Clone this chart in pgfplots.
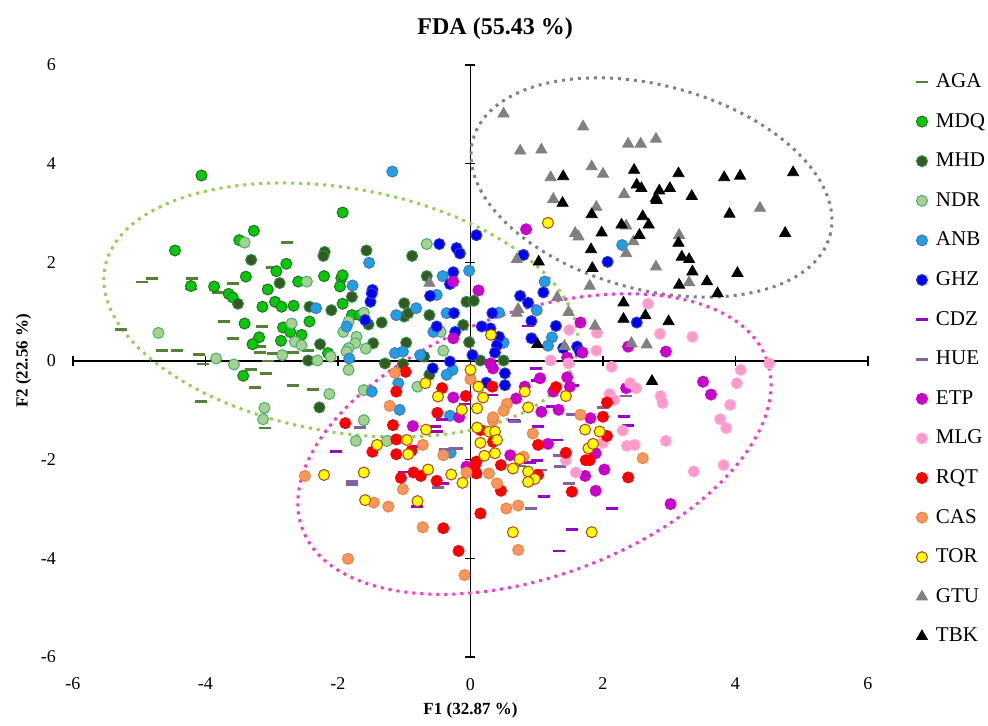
\documentclass[border=0pt]{standalone}
\usepackage{fontspec}
\setmainfont{Liberation Serif}
\usepackage{pgfplots}
\pgfplotsset{compat=1.18}
\usetikzlibrary{plotmarks}

\definecolor{cAGA}{RGB}{84,130,53}
\definecolor{cMDQ}{RGB}{0,204,0}
\definecolor{eMDQ}{RGB}{40,110,40}
\definecolor{cMHD}{RGB}{56,87,35}
\definecolor{eMHD}{RGB}{30,150,60}
\definecolor{cNDR}{RGB}{169,209,142}
\definecolor{eNDR}{RGB}{60,179,113}
\definecolor{cANB}{RGB}{30,160,230}
\definecolor{eANB}{RGB}{70,120,190}
\definecolor{cGHZ}{RGB}{0,0,240}
\definecolor{eGHZ}{RGB}{40,60,220}
\definecolor{cCDZ}{RGB}{153,0,204}
\definecolor{cHUE}{RGB}{128,100,162}
\definecolor{cETP}{RGB}{204,0,204}
\definecolor{cMLG}{RGB}{255,153,204}
\definecolor{eMLG}{RGB}{255,170,210}
\definecolor{cRQT}{RGB}{255,0,0}
\definecolor{cCAS}{RGB}{250,150,90}
\definecolor{eCAS}{RGB}{240,130,60}
\definecolor{cTOR}{RGB}{255,255,0}
\definecolor{eTOR}{RGB}{192,64,0}
\definecolor{cGTU}{RGB}{128,128,128}
\definecolor{elGreen}{RGB}{146,208,80}
\definecolor{elPink}{RGB}{255,51,204}

\pgfplotsset{
  circ/.style 2 args={only marks, color=#2, mark=*, mark size=2.75pt,
    mark options={fill=#1, draw=#2, line width=0.5pt}},
  dash/.style={only marks, color=#1, mark=-, mark size=3pt,
    mark options={draw=#1, line width=1.4pt}},
  tri/.style={only marks, color=#1, mark=triangle*, mark size=3.2pt,
    mark options={fill=#1, draw=#1}},
}
\tikzset{elli/.style={draw=#1, line width=1.5pt, dash pattern=on 1.5pt off 2.5pt}}

\begin{document}
\begin{tikzpicture}
% axes through the origin and the group ellipses
\begin{axis}[
  scale only axis, width=397.5pt, height=296pt,
  xmin=-6, xmax=6, ymin=-6, ymax=6,
  axis lines=middle,
  every inner x axis line/.append style={-},
  every inner y axis line/.append style={-},
  axis line style={black, line width=0.6pt},
  xtick={-6,-4,...,6}, ytick={-6,-4,...,6},
  xticklabels={}, yticklabels={},
  tick align=center, major tick length=5pt,
  tick style={black, line width=0.6pt},
  clip=false,
]
\draw[elli=elGreen, rotate around={-10:(axis cs:-1.955,1.034)}]
  (axis cs:-1.955,1.034) ellipse [x radius=3.62, y radius=2.47];
\draw[elli=cGTU, rotate around={-15:(axis cs:2.732,3.517)}]
  (axis cs:2.732,3.517) ellipse [x radius=2.79, y radius=2.07];
\draw[elli=elPink, rotate around={20:(axis cs:0.966,-1.683)}]
  (axis cs:0.966,-1.683) ellipse [x radius=3.73, y radius=2.68];
\path (rel axis cs:-0.0918,-0.1098) rectangle (rel axis cs:1.151,1.1098);
\end{axis}

\begin{axis}[
  scale only axis, width=397.5pt, height=296pt,
  xmin=-6, xmax=6, ymin=-6, ymax=6,
  axis lines=left, axis line style={draw=none},
  major tick length=0pt,
  xtick={-6,-4,...,6}, ytick={-6,-4,...,6},
  /pgf/number format/assume math mode=true,
  tick label style={font=\fontsize{9}{10}\selectfont},
  xticklabel style={yshift=-7pt},
  yticklabel style={xshift=-5pt},
  xlabel={F1 (32.87 \%)}, ylabel={F2 (22.56 \%)},
  label style={font=\bfseries\fontsize{8.5}{10}\selectfont},
  xlabel style={yshift=0.5pt},
  ylabel style={yshift=-2pt},
  title={FDA (55.43 \%)},
  title style={at={(0.531,1)}, font=\bfseries\fontsize{12}{14}\selectfont, yshift=3pt},
  legend cell align=left,
  legend image code/.code={\draw[#1] plot coordinates {(0cm,0cm)};},
  legend style={at={(1,1)}, anchor=north west, xshift=24pt, yshift=1.4pt,
    draw=none, fill=none, inner sep=0pt, outer sep=0pt,
    font=\fontsize{10.5}{12}\selectfont,
    /tikz/every odd column/.append style={column sep=2.5pt},
    row sep=0pt, nodes={minimum height=19.8pt, inner sep=1.5pt}},
  clip=false,
]
\addplot[dash=cAGA] coordinates {
(-2.77,2.41) (-3.00,1.90) (-4.96,1.60) (-4.81,1.68) (-4.21,1.68) (-4.22,1.46)
(-3.59,1.57) (-3.81,1.39) (-5.28,0.64) (-4.66,0.21) (-4.43,0.21) (-4.10,0.13)
(-4.03,-0.06) (-3.31,-0.18) (-3.08,-0.25) (-3.25,-0.53) (-3.72,0.80) (-3.58,0.45)
(-3.14,0.70) (-3.18,0.29) (-3.18,0.18) (-2.98,0.16) (-3.05,0.00) (-4.07,-0.82)
(-3.10,-1.36) (-2.68,-0.50) (-2.37,-0.57) (-2.68,0.17) (-2.45,0.21)};
\addlegendentry{AGA}
\addplot[circ={cMDQ}{eMDQ}] coordinates {
(-4.06,3.76) (-3.27,2.64) (-3.49,2.45) (-4.46,2.24) (-2.93,1.82) (-2.78,1.97)
(-4.22,1.52) (-3.87,1.51) (-3.65,1.36) (-3.59,1.29) (-3.14,1.10) (-3.06,1.45)
(-2.95,1.20) (-2.85,1.10) (-3.39,1.71) (-3.43,-0.30) (-3.41,0.76) (-3.19,0.48)
(-3.29,0.34) (-2.86,0.41) (-2.83,0.68) (-1.93,3.01) (-2.21,1.72) (-1.95,1.68)
(-1.93,1.74) (-1.97,1.51) (-2.60,1.61) (-2.67,1.12) (-1.93,1.16) (-1.79,0.93)
(-1.67,0.93) (-2.43,0.80) (-2.72,0.59) (-2.55,0.53) (-2.15,0.16)};
\addlegendentry{MDQ}
\addplot[circ={cMHD}{eMHD}] coordinates {
(-3.31,2.05) (-2.88,1.58) (-3.51,1.16) (-2.20,2.21) (-2.22,2.13) (-1.57,2.24)
(-0.88,2.13) (-0.66,1.72) (-1.79,1.30) (-2.43,1.10) (-2.10,1.03) (-2.27,0.34)
(-2.45,0.01) (-1.54,0.74) (-1.34,0.78) (-1.47,0.36) (-1.00,1.17) (-1.00,0.90)
(-0.94,0.97) (-0.62,0.93) (-0.11,0.73) (-0.02,0.38) (-0.06,1.20) (0.05,1.22)
(-0.97,0.37) (-0.70,0.09) (-1.29,-0.05) (-1.02,-0.06) (-0.62,-0.28) (-2.28,-0.94)
(0.15,0.01) (0.50,0.01)};
\addlegendentry{MHD}
\addplot[circ={cNDR}{eNDR}] coordinates {
(-3.41,2.40) (-4.71,0.57) (-3.84,0.05) (-3.57,-0.07) (-2.84,0.12) (-3.11,-0.95)
(-3.13,-1.18) (-0.66,2.37) (-2.47,1.61) (-1.61,0.98) (-2.70,0.76) (-2.65,0.39)
(-2.55,0.32) (-2.31,0.01) (-2.11,0.09) (-1.92,0.59) (-1.84,0.80) (-1.72,0.49)
(-1.74,0.36) (-1.84,0.26) (-1.87,0.19) (-1.58,0.25) (-1.84,-0.18) (-0.45,0.59)
(-0.41,0.21) (-0.80,-0.52) (-1.61,-0.59) (-2.13,-0.67) (-1.61,-1.20) (-1.73,-1.62)
(-1.26,-1.62)};
\addlegendentry{NDR}
\addplot[circ={cANB}{eANB}] coordinates {
(-1.18,3.84) (-1.53,1.99) (-0.02,1.83) (-1.78,1.53) (-0.42,1.72) (-0.51,1.34)
(-2.33,1.07) (-1.87,0.70) (-1.83,0.05) (-0.82,1.07) (-1.12,0.93) (-0.36,0.97)
(-0.56,0.59) (-1.14,0.16) (-1.02,0.19) (-0.76,0.12) (-0.27,-0.18) (-0.36,-0.28)
(-1.09,-0.45) (-1.49,-0.62) (-1.07,-0.99) (-0.31,-1.11) (-0.30,-1.86) (1.00,1.03)
(0.43,0.98) (0.50,0.37) (1.23,0.48) (1.17,0.31) (2.29,2.35) (1.12,1.61)};
\addlegendentry{ANB}
\addplot[circ={cGHZ}{eGHZ}] coordinates {
(-0.47,2.37) (-0.21,2.29) (-0.16,2.18) (0.09,2.55) (-0.26,1.80) (-0.31,1.56)
(-1.48,1.44) (-0.61,1.32) (-1.51,1.20) (-1.49,1.37) (-1.59,0.83) (-0.25,0.97)
(-0.51,0.70) (-0.23,0.59) (-0.31,-0.01) (-0.57,-0.15) (0.03,0.12) (0.75,1.32)
(0.87,1.18) (0.33,0.97) (0.92,0.81) (1.29,0.71) (2.51,0.78) (0.30,0.66)
(0.17,0.70) (0.43,0.49) (0.40,0.32) (0.37,0.17) (0.92,0.46) (1.40,0.26)
(1.61,0.29) (1.65,0.19) (0.52,-0.25) (0.52,-0.49) (0.24,-0.44) (2.07,2.01)
(0.80,2.15) (1.10,1.39)};
\addlegendentry{GHZ}
\addplot[dash=cCDZ] coordinates {
(-0.54,-1.32) (-0.51,-1.43) (-0.43,-1.18) (-0.08,-0.87) (-2.03,-1.84) (-0.79,-1.74)
(-1.00,-2.25) (-0.41,-2.49) (-0.80,-2.95) (0.90,-2.06) (1.01,-2.01) (1.11,-2.74)
(1.02,-1.32) (1.30,-1.60) (1.53,-3.41) (1.34,-3.85) (2.38,-1.30) (2.13,-2.99)
(0.87,0.71) (0.33,-0.69) (0.99,-0.15) (1.00,-0.40) (1.55,-0.50) (1.23,-0.93)
(0.65,-1.20) (2.31,-1.13)};
\addlegendentry{CDZ}
\addplot[dash=cHUE] coordinates {
(-1.67,-1.34) (-0.38,-1.80) (-0.21,-1.77) (-1.79,-2.45) (-1.79,-2.51) (-0.49,-2.57)
(0.75,-2.13) (1.07,-2.21) (0.91,-2.99) (1.33,-1.91) (1.35,-2.14) (1.49,-2.49)
(0.67,-1.23) (1.54,-1.09) (2.00,-0.95) (2.35,-0.71)};
\addlegendentry{HUE}
\addplot[circ={cETP}{cETP}] coordinates {
(-0.26,1.61) (0.12,1.43) (-0.26,0.46) (-0.26,-0.74) (-0.17,-1.14) (-0.87,-1.32)
(-0.06,-2.14) (0.60,-1.91) (1.17,-1.68) (2.02,-2.20) (1.73,-2.33) (1.89,-1.87)
(1.89,-2.63) (1.66,0.78) (2.38,0.29) (0.30,-0.05) (0.34,-0.15) (1.69,0.17)
(1.46,0.07) (1.05,-0.35) (0.82,-0.52) (1.25,-0.62) (1.50,-0.52) (1.46,-0.33)
(0.69,-0.76) (1.07,-1.03) (1.33,-0.99) (1.81,-1.16) (2.35,-0.55) (2.95,0.19)
(3.51,-0.42) (3.63,-0.68) (3.02,-2.90) (0.84,2.67)};
\addlegendentry{ETP}
\addplot[circ={cMLG}{eMLG}] coordinates {
(1.49,0.63) (1.91,0.57) (2.68,1.16) (1.21,0.01) (1.48,-0.05) (2.13,-0.12)
(1.90,0.21) (2.10,-0.67) (2.17,-0.79) (2.41,-0.45) (2.50,-0.55) (2.86,0.55)
(3.35,0.49) (2.87,-0.71) (2.90,-0.85) (4.08,-0.18) (4.02,-0.45) (4.51,-0.05)
(3.92,-0.89) (3.77,-1.18) (3.86,-1.36) (2.95,-1.62) (3.82,-2.11) (3.37,-2.24)
(1.44,-2.01) (1.59,-2.26) (2.00,-1.66) (2.30,-1.41) (2.36,-1.72) (2.48,-1.70)};
\addlegendentry{MLG}
\addplot[circ={cRQT}{cRQT}] coordinates {
(-0.98,-0.22) (-1.12,-0.62) (-0.43,-0.55) (-0.07,-0.71) (-0.50,-1.05) (-1.89,-1.26)
(-1.17,-1.30) (-1.48,-1.84) (-1.12,-1.59) (-1.12,-1.89) (-0.89,-1.82) (-1.05,-2.37)
(-0.86,-2.26) (-0.75,-2.33) (-0.51,-2.43) (-0.41,-3.39) (-0.18,-3.85) (0.15,-1.40)
(0.34,-1.64) (0.09,-2.04) (0.07,-2.11) (0.09,-2.28) (0.46,-2.11) (0.46,-2.63)
(0.15,-3.09) (1.02,-2.31) (1.02,-1.70) (1.44,-1.86) (1.53,-2.65) (2.06,-1.52)
(1.74,-2.01) (1.80,-2.01) (2.38,-2.36) (0.33,-0.52) (1.29,-0.53) (2.00,-1.13)
(2.06,-0.84)};
\addlegendentry{RQT}
\addplot[circ={cCAS}{eCAS}] coordinates {
(-1.14,-0.24) (0.00,-0.37) (-1.22,-0.91) (-0.72,-1.70) (-0.41,-1.91) (-2.50,-2.33)
(-1.02,-2.60) (-1.46,-2.87) (-1.24,-2.95) (-0.72,-3.37) (-1.85,-4.01) (-0.09,-4.34)
(0.34,-1.20) (-0.06,-2.26) (0.28,-2.28) (0.80,-1.94) (0.40,-2.48) (0.54,-2.99)
(0.72,-2.93) (0.72,-3.83) (0.94,-1.47) (2.60,-1.97) (0.55,-0.87) (0.50,-1.01)
(0.34,-1.14) (1.66,-1.09)};
\addlegendentry{CAS}
\addplot[circ={cTOR}{eTOR}] coordinates {
(-0.68,-0.45) (-0.49,-0.72) (-0.13,-0.99) (-0.67,-1.39) (0.00,-0.18) (0.10,-0.96)
(0.10,-1.35) (-1.41,-1.70) (-0.96,-1.60) (-0.94,-1.89) (-2.21,-2.31) (-1.61,-2.26)
(-0.64,-2.20) (-0.29,-2.30) (-0.12,-2.47) (-1.59,-2.82) (-0.80,-2.84) (0.28,-1.43)
(0.37,-1.43) (0.15,-1.66) (0.40,-1.60) (0.37,-1.87) (0.21,-1.92) (0.64,-2.18)
(0.74,-1.99) (0.64,-3.47) (0.87,-2.24) (0.97,-2.39) (0.87,-2.45) (1.73,-1.39)
(1.95,-1.43) (1.78,-1.77) (1.85,-1.68) (1.83,-3.47) (1.17,2.80) (0.31,0.53)
(0.12,-0.52) (0.19,-0.74) (1.44,-0.71) (0.82,-0.62) (0.87,-0.94)};
\addlegendentry{TOR}
\addplot[tri=cGTU] coordinates {
(-0.62,1.58) (0.50,5.01) (1.70,4.75) (0.75,4.26) (1.07,4.28) (2.38,4.40)
(2.57,4.40) (2.80,4.50) (1.83,3.94) (2.00,3.79) (1.21,3.72) (1.25,3.28)
(2.32,3.38) (1.90,3.12) (2.35,2.74) (1.58,2.59) (1.63,2.52) (2.46,2.42)
(2.35,2.18) (2.80,1.91) (0.70,2.06) (4.37,3.10) (3.15,2.55) (3.30,1.59)
(0.72,1.05) (0.70,0.97) (1.31,1.29) (1.48,0.99) (1.80,1.52) (1.88,0.71)
(1.42,0.30) (2.43,0.36) (2.66,0.33)};
\addlegendentry{GTU}
\addplot[tri=black] coordinates {
(1.40,3.74) (1.39,3.20) (2.47,3.87) (2.51,3.57) (2.80,3.30) (1.83,2.97)
(2.60,2.93) (2.69,2.76) (2.28,2.76) (1.98,2.60) (2.55,2.55) (1.82,2.26)
(1.84,1.88) (1.03,2.01) (3.14,3.80) (3.83,3.72) (4.07,3.75) (4.87,3.82)
(2.85,3.45) (3.01,3.50) (2.81,3.26) (3.34,3.34) (2.58,3.50) (3.91,2.98)
(4.75,2.59) (3.14,2.39) (3.19,2.11) (3.30,2.06) (3.35,1.81) (4.03,1.78)
(3.15,1.54) (3.57,1.61) (3.73,1.37) (2.31,1.18) (2.31,0.85) (2.64,0.92)
(1.01,0.34) (2.99,0.80) (2.74,-0.41)};
\addlegendentry{TBK}
\end{axis}
\end{tikzpicture}
\end{document}
